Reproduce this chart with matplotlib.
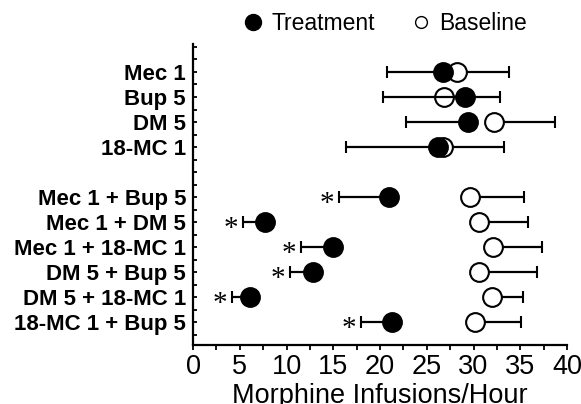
import matplotlib
matplotlib.use('Agg')
import matplotlib.pyplot as plt
from matplotlib.lines import Line2D
from matplotlib.ticker import MultipleLocator

plt.rcParams['font.family'] = 'Liberation Sans'

# data (morphine infusions / hour)
labels = ['Mec 1', 'Bup 5', 'DM 5', '18-MC 1',
          'Mec 1 + Bup 5', 'Mec 1 + DM 5', 'Mec 1 + 18-MC 1',
          'DM 5 + Bup 5', 'DM 5 + 18-MC 1', '18-MC 1 + Bup 5']
rows = [0, 1, 2, 3, 5, 6, 7, 8, 9, 10]
treatment = [26.7, 29.1, 29.4, 26.2, 21.0, 7.7, 15.0, 12.8, 6.1, 21.3]
treatment_err = [6.0, 8.8, 6.6, 9.8, 5.4, 2.4, 3.5, 2.4, 1.9, 3.3]
baseline = [28.2, 26.8, 32.2, 26.7, 29.6, 30.6, 32.1, 30.6, 32.0, 30.2]
baseline_err = [5.6, 6.0, 6.5, 6.6, 5.8, 5.2, 5.2, 6.2, 3.3, 4.9]
significant = [False, False, False, False, True, True, True, True, True, True]

fig = plt.figure(figsize=(5.81, 4.04), dpi=100)
ax = fig.add_axes([0.3322, 0.146, 0.6437, 0.7451])

zeros = [0] * len(rows)
# baseline first so the filled treatment circles sit on top
ax.errorbar(baseline, rows, xerr=[zeros, baseline_err], fmt='o', color='black',
            mfc='white', mec='black', ms=13.5, mew=1.5, elinewidth=1.6,
            capsize=4.3, capthick=2, zorder=2)
ax.errorbar(treatment, rows, xerr=[treatment_err, zeros], fmt='o', color='black',
            mfc='black', mec='black', ms=13.5, mew=1.5, elinewidth=1.6,
            capsize=4.3, capthick=2, zorder=3)

for t, e, r, s in zip(treatment, treatment_err, rows, significant):
    if s:
        ax.annotate('*', xy=(t - e, r), xytext=(-12, -14), textcoords='offset pixels',
                    ha='center', va='baseline', fontsize=21, family='Liberation Serif')

ax.set_xlim(0, 40)
ax.set_ylim(10.92, -1.12)
ax.xaxis.set_major_locator(MultipleLocator(5))
ax.xaxis.set_minor_locator(MultipleLocator(2.5))
ax.set_yticks(rows)
ax.set_yticklabels(labels, fontweight='bold', fontsize=16)
ax.set_yticks([i * 0.5 for i in range(-2, 22)], minor=True)

ax.tick_params(axis='x', which='both', direction='out', length=3.5, width=1.3,
               labelsize=19.5, pad=3)
ax.tick_params(axis='y', which='both', direction='in', length=3, width=1.3, pad=5)

for side in ['top', 'right']:
    ax.spines[side].set_visible(False)
for side in ['left', 'bottom']:
    ax.spines[side].set_linewidth(1.6)

ax.set_xlabel('Morphine Infusions/Hour', fontsize=19.5, labelpad=2)

handles = [Line2D([], [], marker='o', ls='none', mfc='black', mec='black', ms=11.5),
           Line2D([], [], marker='o', ls='none', mfc='white', mec='black', ms=8.5, mew=1)]
fig.legend(handles, ['Treatment', 'Baseline'], loc='center', bbox_to_anchor=(0.663, 0.943),
           ncol=2, frameon=False, fontsize=16.5, handlelength=0.8, handletextpad=0.4,
           columnspacing=1.6, borderpad=0)

fig.savefig('out.png', dpi=100)
